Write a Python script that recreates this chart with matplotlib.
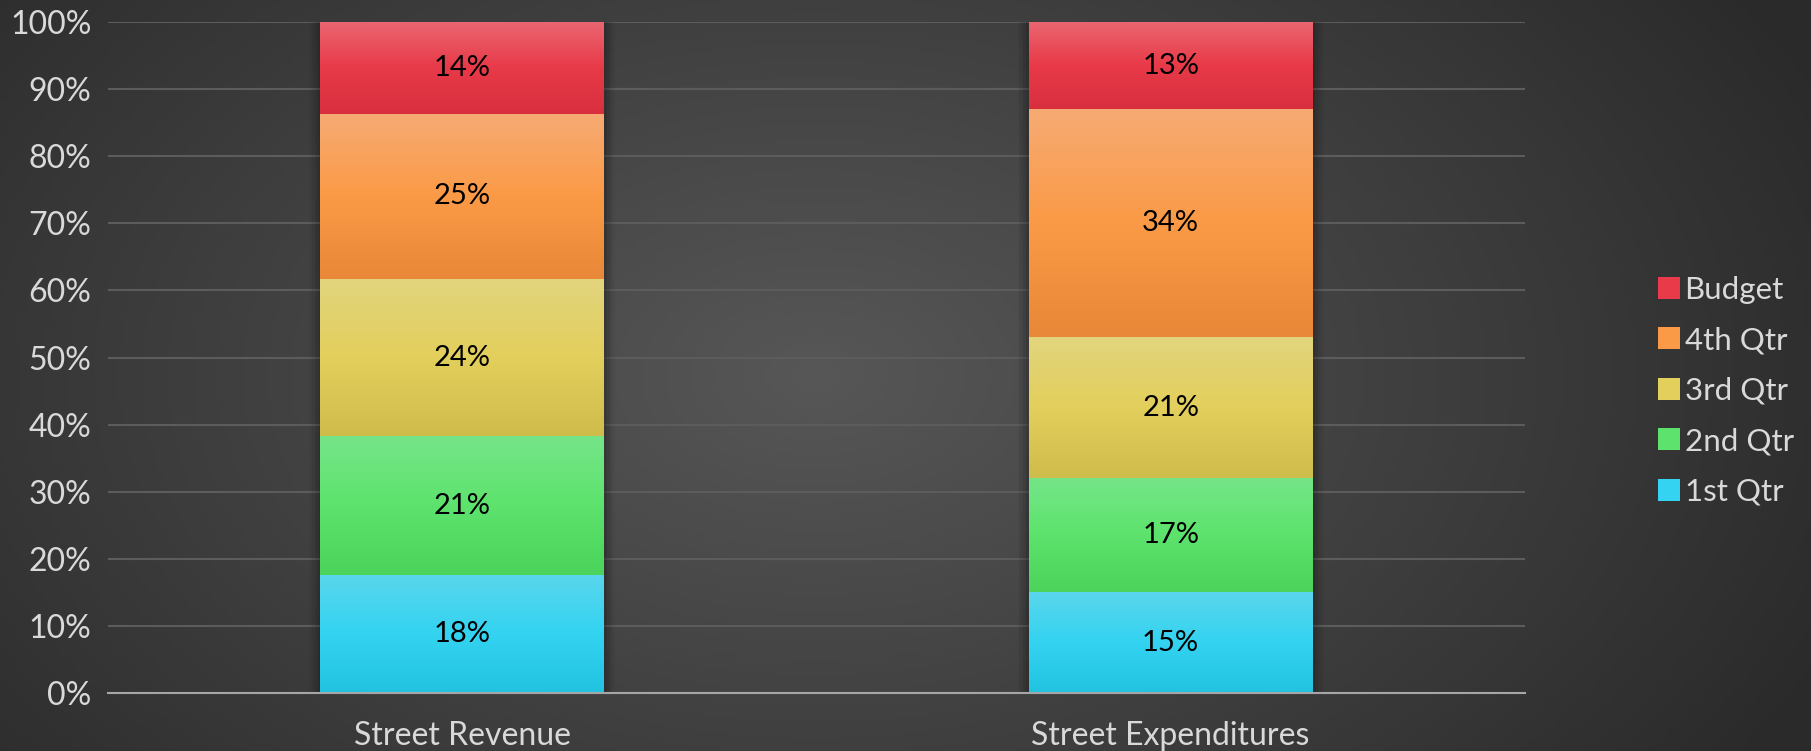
import numpy as np
import matplotlib
matplotlib.use("Agg")
import matplotlib.pyplot as plt
from matplotlib.colors import LinearSegmentedColormap, to_rgb
from matplotlib.patches import Rectangle
from matplotlib.ticker import PercentFormatter, MultipleLocator

# Quarterly shares per street account (stacked to 100%)
categories = ["Street Revenue", "Street Expenditures"]
series_names = ["1st Qtr", "2nd Qtr", "3rd Qtr", "4th Qtr", "Budget"]
qtr1 = [18, 15]
qtr2 = [21, 17]
qtr3 = [24, 21]
qtr4 = [25, 34]
budget = [14, 13]

# top / middle / bottom shades of each series fill
shades = {
    "1st Qtr": ("#5ad6ec", "#33d3f1", "#22c3e1"),
    "2nd Qtr": ("#76e589", "#5de36d", "#4bd35b"),
    "3rd Qtr": ("#e1d57e", "#e3cf5c", "#cfbc4b"),
    "4th Qtr": ("#f6ab74", "#fb9a46", "#e88838"),
    "Budget": ("#ea6772", "#e83a48", "#d82f3f"),
}

plt.rcParams["font.family"] = ["Lato", "DejaVu Sans"]
TEXT = "#d9d9d9"

fig = plt.figure(figsize=(18.11, 7.51), dpi=100)

# radial background, lighter in the middle
bg = fig.add_axes([0, 0, 1, 1], zorder=-10)
gx, gy = np.meshgrid(np.linspace(0, 1, 400), np.linspace(0, 1, 200))
r = np.sqrt(((gx - 0.45) / 0.62) ** 2 + ((gy - 0.5) / 0.95) ** 2)
r = np.clip(r, 0, 1)
light, dark = np.array(to_rgb("#575757")), np.array(to_rgb("#2a2a2a"))
img = light[None, None, :] * (1 - r[..., None]) + dark[None, None, :] * r[..., None]
bg.imshow(img, extent=[0, 1, 0, 1], aspect="auto", origin="lower")
bg.set_axis_off()

ax = fig.add_axes([0.0596, 0.0772, 0.7824, 0.8935])
ax.set_facecolor("none")

values = np.array([qtr1, qtr2, qtr3, qtr4, budget], dtype=float)
shares = values / values.sum(axis=0)
x = np.arange(len(categories))
width = 0.40

# soft shadow behind each column
for xi in x:
    for k, a in enumerate([0.10, 0.08, 0.06, 0.04]):
        pad = 0.004 * (k + 1)
        ax.add_patch(Rectangle((xi - width / 2 - pad, 0), width + 2 * pad, 1.0 + pad * 0.3,
                               facecolor="black", alpha=a, edgecolor="none", zorder=1))

bottom = np.zeros(len(categories))
grad = np.linspace(0, 1, 256).reshape(-1, 1)
for name, frac, raw in zip(series_names, shares, values):
    bars = ax.bar(x, frac, width, bottom=bottom, color=shades[name][1], label=name, zorder=2)
    cmap = LinearSegmentedColormap.from_list(name, [shades[name][2], shades[name][1], shades[name][0]])
    for patch, v in zip(bars.patches, raw):
        x0, y0 = patch.get_x(), patch.get_y()
        w, h = patch.get_width(), patch.get_height()
        ax.imshow(grad, extent=[x0, x0 + w, y0, y0 + h], aspect="auto", origin="lower",
                  cmap=cmap, zorder=3, interpolation="bilinear")
        ax.text(x0 + w / 2, y0 + h / 2, f"{v:.0f}%", ha="center", va="center",
                fontsize=21, color="black", zorder=4)
    bottom += frac

ax.set_xlim(-0.5, 1.5)
ax.set_ylim(0, 1)
ax.yaxis.set_major_locator(MultipleLocator(0.1))
ax.yaxis.set_major_formatter(PercentFormatter(1.0, decimals=0))
ax.grid(axis="y", color="#5c5c5c", linewidth=1.5, zorder=0)
ax.set_axisbelow(True)
ax.set_xticks(x)
ax.set_xticklabels(categories)
ax.tick_params(axis="both", length=0, colors=TEXT, labelsize=23)
ax.tick_params(axis="x", pad=20)
ax.tick_params(axis="y", pad=12)
for side in ["top", "right", "left"]:
    ax.spines[side].set_visible(False)
ax.spines["bottom"].set_color("#a6a6a6")
ax.spines["bottom"].set_linewidth(1.5)
ax.spines["bottom"].set_zorder(5)

handles, labels = ax.get_legend_handles_labels()
leg = fig.legend(handles[::-1], labels[::-1], loc="center left", bbox_to_anchor=(0.9, 0.48),
                 frameon=False, fontsize=22.5, labelcolor=TEXT, handlelength=0.7,
                 handleheight=0.7, handletextpad=0.15, labelspacing=0.72)

fig.savefig("out.png", dpi=100)
